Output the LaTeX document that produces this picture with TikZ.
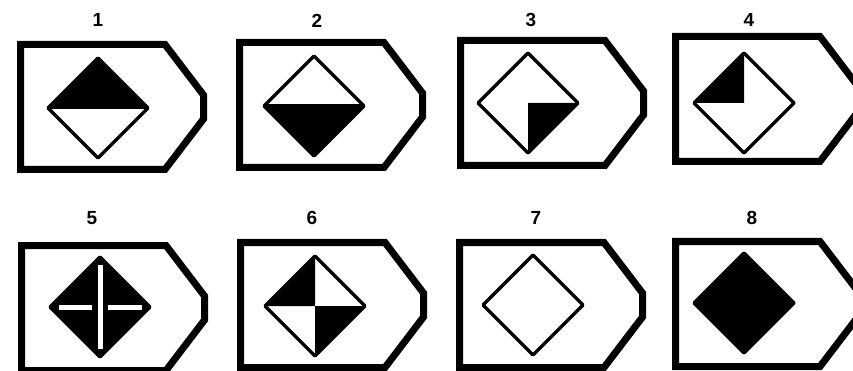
\documentclass[tikz,border=0pt]{standalone}
\usepackage{fontspec}
\setsansfont{Liberation Sans}

\begin{document}
\begin{tikzpicture}[
            x=1pt, y=-1pt,
            frame/.style={color=black, line width=7pt, line join=miter},
            diamondline/.style={color=black, line width=3.5pt, line join=round},
            quarter/.style={fill=black},
            crossline/.style={color=white, line width=5pt},
            numlabel/.style={font=\sffamily\bfseries\fontsize{19}{22}\selectfont, inner sep=0pt}
        ]
            \clip (0,0) rectangle (853,371);

            % frames, labels and diamond centres
            \foreach \n/\L/\T/\cx/\cy/\lx/\ly in {1/17/41/98/108/98/20, 2/236/39/314/106/317/21,
                    3/457/37/528/103/531/20, 4/672/33/744/103/749/20,
                    5/18/242/100/307/92/218, 6/237/239/315/306/312/218,
                    7/456/239/533/305/536/218, 8/672/238/744/303/752/218}{
                \draw[frame] (\L+3.5, \T+3.5) -- (\L+148, \T+3.5) -- (\L+186.5, \T+54)
                    -- (\L+186.5, \T+78) -- (\L+148, \T+128.5) -- (\L+3.5, \T+128.5) -- cycle;
                \node[numlabel] (lab\n) at (\lx, \ly) {\n};
                \coordinate (c\n) at (\cx, \cy);
            }

            % black parts of the diamonds
            \fill[quarter, shift={(c1)}] (-50,0) -- (0,-50) -- (50,0) -- cycle;
            \fill[quarter, shift={(c2)}] (-50,0) -- (0,50) -- (50,0) -- cycle;
            \fill[quarter, shift={(c3)}] (0,0) -- (50,0) -- (0,50) -- cycle;
            \fill[quarter, shift={(c4)}] (0,0) -- (-50,0) -- (0,-50) -- cycle;
            \fill[quarter, shift={(c5)}] (-50,0) -- (0,-50) -- (50,0) -- (0,50) -- cycle;
            \fill[quarter, shift={(c6)}] (0,0) -- (-50,0) -- (0,-50) -- cycle;
            \fill[quarter, shift={(c6)}] (0,0) -- (50,0) -- (0,50) -- cycle;
            \fill[quarter, shift={(c8)}] (-50,0) -- (0,-50) -- (50,0) -- (0,50) -- cycle;

            % white cross in 5
            \draw[crossline, shift={(c5)}] (0,-42) -- (0,42);
            \draw[crossline, shift={(c5)}] (-41,0) -- (-8,0);
            \draw[crossline, shift={(c5)}] (8,0) -- (42,0);

            % diamond outlines
            \foreach \n in {1,...,8}{
                \draw[diamondline, shift={(c\n)}] (-50,0) -- (0,-50) -- (50,0) -- (0,50) -- cycle;
            }
            \draw[line width=3pt, shift={(c1)}] (-50,0) -- (50,0);
            \draw[line width=3pt, shift={(c2)}] (-50,0) -- (50,0);

        \end{tikzpicture}
\end{document}
